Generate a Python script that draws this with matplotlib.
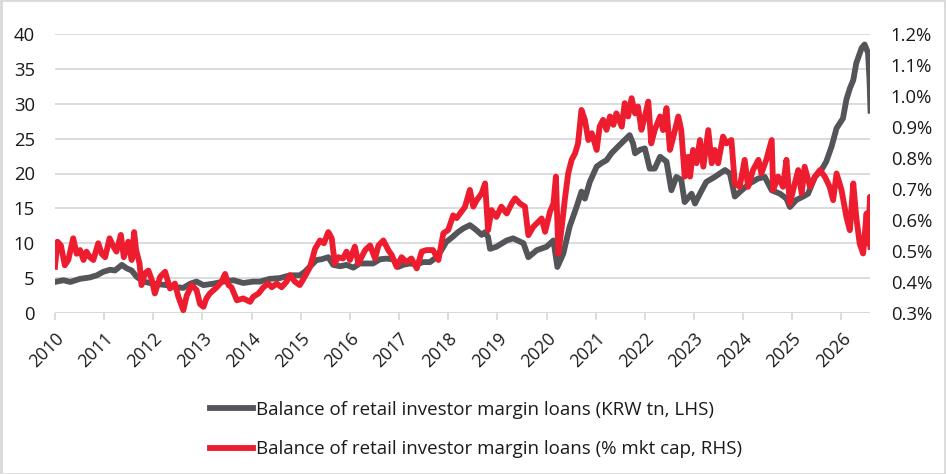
import matplotlib
matplotlib.use("Agg")
import matplotlib.pyplot as plt
from matplotlib.patches import Rectangle
from matplotlib.lines import Line2D

# ---------------- data ----------------
grey_years = [2010.00, 2010.17, 2010.31, 2010.51, 2010.71, 2010.85, 2010.98, 2011.12, 2011.22, 2011.36,
              2011.46, 2011.56, 2011.66, 2011.80, 2012.00, 2012.27, 2012.47, 2012.61, 2012.75, 2012.88,
              2013.02, 2013.22, 2013.42, 2013.63, 2013.83, 2014.03, 2014.17, 2014.37, 2014.57, 2014.78,
              2014.98, 2015.08, 2015.22, 2015.32, 2015.42, 2015.56, 2015.66, 2015.80, 2015.93, 2016.07,
              2016.20, 2016.34, 2016.47, 2016.61, 2016.74, 2016.88, 2016.98, 2017.08, 2017.22, 2017.36,
              2017.49, 2017.63, 2017.76, 2017.86, 2017.96, 2018.07, 2018.20, 2018.30, 2018.44, 2018.57,
              2018.68, 2018.75, 2018.81, 2018.85, 2018.98, 2019.19, 2019.32, 2019.53, 2019.63, 2019.80,
              2020.00, 2020.14, 2020.22, 2020.34, 2020.47, 2020.61, 2020.71, 2020.78, 2020.88, 2021.02,
              2021.12, 2021.22, 2021.32, 2021.46, 2021.59, 2021.69, 2021.76, 2021.80, 2021.90, 2022.00,
              2022.10, 2022.20, 2022.31, 2022.44, 2022.54, 2022.64, 2022.74, 2022.81, 2022.95, 2023.02,
              2023.12, 2023.25, 2023.42, 2023.63, 2023.73, 2023.83, 2023.97, 2024.14, 2024.31, 2024.44,
              2024.58, 2024.75, 2024.88, 2024.95, 2025.08, 2025.22, 2025.32, 2025.46, 2025.59, 2025.69,
              2025.80, 2025.90, 2026.03, 2026.10, 2026.17, 2026.24, 2026.30, 2026.41, 2026.47, 2026.54,
              2026.57, 2026.59]
grey_vals = [4.45, 4.7, 4.45, 4.9, 5.1, 5.4, 5.9, 6.2, 6.1, 6.9,
             6.4, 6.1, 5.2, 4.5, 4.2, 4.0, 3.7, 3.6, 4.2, 4.5,
             4.0, 4.2, 4.5, 4.7, 4.3, 4.5, 4.5, 4.9, 5.0, 5.4,
             5.4, 5.9, 6.9, 7.6, 7.7, 8.0, 6.9, 6.7, 6.9, 6.5,
             7.1, 7.1, 7.1, 7.7, 7.8, 7.7, 6.6, 6.9, 7.1, 7.0,
             7.3, 7.3, 8.0, 9.0, 10.2, 10.8, 11.6, 12.1, 12.6, 11.9,
             11.2, 11.6, 10.9, 9.2, 9.5, 10.4, 10.7, 10.0, 8.0, 9.0,
             9.5, 10.4, 6.6, 8.5, 12.4, 15.2, 17.4, 16.4, 18.8, 21.0,
             21.5, 21.9, 22.9, 23.9, 24.8, 25.5, 24.3, 22.9, 23.4, 23.6,
             20.7, 20.7, 22.4, 21.7, 17.6, 19.5, 19.1, 15.9, 17.1, 15.7,
             17.1, 18.8, 19.5, 20.5, 20.0, 16.7, 17.6, 18.6, 19.3, 19.5,
             17.6, 17.1, 16.4, 15.2, 16.2, 16.7, 17.1, 19.5, 20.5, 21.7,
             23.9, 26.5, 27.9, 30.6, 32.2, 33.4, 35.8, 38.0, 38.5, 37.3,
             33.4, 29.0]

red_years = [2010.00, 2010.05, 2010.12, 2010.20, 2010.27, 2010.37, 2010.44, 2010.51, 2010.58, 2010.64,
             2010.71, 2010.78, 2010.88, 2010.95, 2011.02, 2011.11, 2011.19, 2011.25, 2011.34, 2011.40,
             2011.49, 2011.56, 2011.61, 2011.65, 2011.72, 2011.76, 2011.83, 2011.90, 2011.97, 2012.03,
             2012.14, 2012.24, 2012.34, 2012.44, 2012.51, 2012.61, 2012.68, 2012.78, 2012.88, 2012.95,
             2013.02, 2013.08, 2013.15, 2013.29, 2013.39, 2013.46, 2013.53, 2013.59, 2013.70, 2013.83,
             2013.97, 2014.03, 2014.14, 2014.24, 2014.34, 2014.41, 2014.51, 2014.61, 2014.71, 2014.78,
             2014.88, 2014.98, 2015.08, 2015.19, 2015.29, 2015.39, 2015.47, 2015.56, 2015.63, 2015.69,
             2015.76, 2015.86, 2015.93, 2016.00, 2016.10, 2016.17, 2016.31, 2016.41, 2016.51, 2016.58,
             2016.68, 2016.78, 2016.85, 2016.95, 2017.05, 2017.15, 2017.25, 2017.36, 2017.46, 2017.56,
             2017.69, 2017.80, 2017.90, 2018.00, 2018.10, 2018.17, 2018.24, 2018.34, 2018.44, 2018.51,
             2018.58, 2018.68, 2018.75, 2018.81, 2018.88, 2018.98, 2019.08, 2019.19, 2019.29, 2019.36,
             2019.46, 2019.56, 2019.63, 2019.73, 2019.83, 2019.90, 2019.97, 2020.07, 2020.14, 2020.19,
             2020.24, 2020.31, 2020.37, 2020.44, 2020.51, 2020.58, 2020.64, 2020.71, 2020.78, 2020.85,
             2020.92, 2021.02, 2021.08, 2021.15, 2021.22, 2021.29, 2021.36, 2021.42, 2021.53, 2021.59,
             2021.66, 2021.73, 2021.80, 2021.86, 2021.93, 2022.00, 2022.07, 2022.13, 2022.20, 2022.31,
             2022.37, 2022.44, 2022.51, 2022.58, 2022.68, 2022.74, 2022.81, 2022.88, 2022.92, 2022.98,
             2023.05, 2023.12, 2023.19, 2023.29, 2023.36, 2023.42, 2023.49, 2023.59, 2023.66, 2023.76,
             2023.83, 2023.93, 2024.03, 2024.10, 2024.20, 2024.31, 2024.37, 2024.47, 2024.58, 2024.61,
             2024.71, 2024.81, 2024.88, 2024.95, 2025.05, 2025.12, 2025.19, 2025.25, 2025.36, 2025.46,
             2025.56, 2025.66, 2025.76, 2025.83, 2025.90, 2026.00, 2026.10, 2026.17, 2026.24, 2026.30,
             2026.37, 2026.44, 2026.51, 2026.54, 2026.58, 2026.59]
red_vals = [0.449, 0.530, 0.518, 0.454, 0.471, 0.541, 0.491, 0.503, 0.471, 0.498,
            0.480, 0.471, 0.525, 0.491, 0.480, 0.541, 0.514, 0.498, 0.552, 0.480,
            0.530, 0.471, 0.561, 0.503, 0.460, 0.390, 0.428, 0.437, 0.406, 0.363,
            0.417, 0.433, 0.379, 0.395, 0.352, 0.309, 0.356, 0.390, 0.374, 0.329,
            0.320, 0.347, 0.363, 0.383, 0.401, 0.426, 0.390, 0.383, 0.341, 0.347,
            0.336, 0.352, 0.363, 0.383, 0.395, 0.383, 0.395, 0.383, 0.401, 0.422,
            0.401, 0.390, 0.417, 0.449, 0.507, 0.534, 0.525, 0.561, 0.541, 0.460,
            0.480, 0.476, 0.498, 0.471, 0.514, 0.460, 0.503, 0.518, 0.476, 0.518,
            0.534, 0.503, 0.487, 0.449, 0.480, 0.464, 0.476, 0.444, 0.498, 0.503,
            0.503, 0.471, 0.557, 0.568, 0.615, 0.606, 0.621, 0.642, 0.697, 0.643,
            0.664, 0.686, 0.718, 0.567, 0.632, 0.610, 0.643, 0.621, 0.653, 0.670,
            0.653, 0.643, 0.551, 0.578, 0.594, 0.605, 0.562, 0.627, 0.653, 0.740,
            0.492, 0.578, 0.664, 0.750, 0.794, 0.815, 0.847, 0.955, 0.923, 0.858,
            0.880, 0.826, 0.901, 0.923, 0.891, 0.934, 0.907, 0.944, 0.901, 0.977,
            0.934, 0.993, 0.944, 0.966, 0.891, 0.934, 0.982, 0.847, 0.890, 0.934,
            0.890, 0.961, 0.826, 0.869, 0.934, 0.890, 0.740, 0.804, 0.740, 0.826,
            0.783, 0.858, 0.772, 0.890, 0.783, 0.826, 0.783, 0.869, 0.847, 0.858,
            0.718, 0.707, 0.794, 0.707, 0.761, 0.794, 0.750, 0.794, 0.858, 0.697,
            0.740, 0.707, 0.794, 0.653, 0.718, 0.761, 0.686, 0.772, 0.707, 0.740,
            0.761, 0.740, 0.707, 0.664, 0.750, 0.697, 0.610, 0.567, 0.718, 0.610,
            0.524, 0.492, 0.621, 0.524, 0.675, 0.513]

left_ticks = [0, 5, 10, 15, 20, 25, 30, 35, 40]
right_ticks = [0.3, 0.4, 0.5, 0.6, 0.7, 0.8, 0.9, 1.0, 1.1, 1.2]
right_tick_labels = ["0.3%", "0.4%", "0.5%", "0.6%", "0.7%", "0.8%", "0.9%", "1.0%", "1.1%", "1.2%"]
x_ticks = list(range(2010, 2027))
x_tick_labels = [str(y) for y in x_ticks]

grey_label = "Balance of retail investor margin loans (KRW tn, LHS)"
red_label = "Balance of retail investor margin loans (% mkt cap, RHS)"

# ---------------- style ----------------
plt.rcParams['font.family'] = ['Open Sans', 'DejaVu Sans']
GREY = "#545558"
RED = "#ED1C2E"
GRID = "#D9D9D9"
TXT = "#1A1A1A"
LW = 4.2

W, H = 946, 474
fig = plt.figure(figsize=(W / 100, H / 100), dpi=100)
ax = fig.add_axes([55 / W, 1 - 313 / H, (870 - 55) / W, (313 - 34) / H])
ax2 = ax.twinx()

ax.plot(grey_years, grey_vals, color=GREY, lw=LW, solid_joinstyle='round', zorder=3)
ax2.plot(red_years, red_vals, color=RED, lw=LW, solid_joinstyle='round', zorder=3)

ax.set_xlim(2010, 2026.58)
ax.set_ylim(0, 40)
ax2.set_ylim(0.3, 1.2)

ax.set_yticks(left_ticks)
ax.set_yticklabels([str(v) for v in left_ticks])
ax2.set_yticks(right_ticks)
ax2.set_yticklabels(right_tick_labels)
ax.set_xticks(x_ticks)
ax.set_xticklabels(x_tick_labels, rotation=45, ha='right', rotation_mode='anchor')

ax.grid(axis='y', color=GRID, lw=1.3)
ax.set_axisbelow(True)
for a in (ax, ax2):
    for s in ('top', 'right', 'left', 'bottom'):
        a.spines[s].set_visible(False)
ax.axhline(0, color=GRID, lw=1.3, zorder=1)

ax.tick_params(axis='y', length=0, pad=14.5, labelsize=13.3, labelcolor=TXT)
ax2.tick_params(axis='y', length=0, pad=15, labelsize=13.3, labelcolor=TXT)
ax.tick_params(axis='x', length=5, width=1.3, color=GRID, pad=7, labelsize=12.8, labelcolor=TXT)

handles = [Line2D([], [], color=GREY, lw=LW), Line2D([], [], color=RED, lw=LW)]
fig.legend(handles, [grey_label, red_label], loc='center',
           bbox_to_anchor=(476 / W, 1 - 429.5 / H), frameon=False,
           fontsize=13.5, handlelength=2.3, handletextpad=0.2, labelspacing=1.15,
           labelcolor=TXT)

fig.patches.append(Rectangle((0.001, 0.001), 0.998, 0.998, transform=fig.transFigure,
                             fill=False, edgecolor=GRID, lw=2))

fig.savefig("out.png", dpi=100)
